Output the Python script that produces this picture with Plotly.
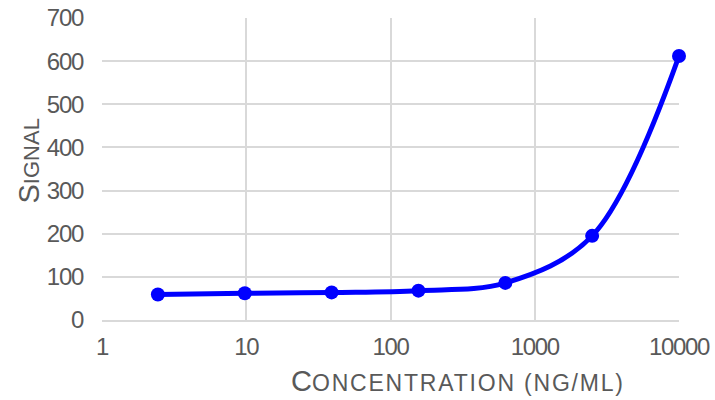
import plotly.graph_objects as go

concentration = [2.44, 9.77, 39.06, 156.25, 625, 2500, 10000]
signal = [59, 62, 64, 68, 86, 195, 612]

x_tick_vals = [1, 10, 100, 1000, 10000]
x_tick_text = ["1", "10", "100", "1000", "10000"]
y_tick_vals = [0, 100, 200, 300, 400, 500, 600, 700]
y_tick_text = ["0", "100", "200", "300", "400", "500", "600", "700"]

GREY = "#595959"
GRID = "#d9d9d9"
TICK_FONT = dict(family="Arial", size=24, color=GREY)


def narrow(t):
    return '<span style="letter-spacing:-1.3px">' + t + '</span>'


fig = go.Figure()
fig.add_trace(go.Scatter(
    x=concentration, y=signal, mode="lines+markers",
    line=dict(color="#0000ff", width=5, shape="spline", smoothing=1),
    marker=dict(color="#0000ff", size=14),
    cliponaxis=False, showlegend=False,
))

fig.update_layout(
    width=715, height=400,
    margin=dict(l=102, r=36, t=18, b=80, autoexpand=False),
    paper_bgcolor="white", plot_bgcolor="white",
    xaxis=dict(type="log", range=[0, 4], tickvals=x_tick_vals,
               ticktext=[narrow(t) for t in x_tick_text],
               showgrid=True, gridcolor=GRID, gridwidth=1.6, zeroline=False,
               showline=True, linecolor=GRID, linewidth=1.6,
               tickfont=TICK_FONT, ticks="", ticklabelstandoff=4,
               ticklabeloverflow="allow", automargin=False),
    yaxis=dict(range=[0, 700], tickvals=y_tick_vals,
               ticktext=[narrow(t) for t in y_tick_text],
               showgrid=True, gridcolor=GRID, gridwidth=1.6, zeroline=False,
               showline=False, tickfont=TICK_FONT, ticks="", ticklabelstandoff=18,
               ticklabeloverflow="allow", automargin=False),
    annotations=[
        dict(text='C<span style="font-size:23px;letter-spacing:1.8px">ONCENTRATION (NG/ML)</span>',
             xref="paper", yref="paper", x=(457.5 - 102) / 577, y=(400 - 381 - 80) / 302,
             xanchor="center", yanchor="middle", showarrow=False,
             font=dict(family="Arial", size=29, color=GREY)),
        dict(text='S<span style="font-size:22px">IGNAL</span>',
             xref="paper", yref="paper", x=(28 - 102) / 577, y=(400 - 161.5 - 80) / 302,
             xanchor="center", yanchor="middle", showarrow=False, textangle=-90,
             font=dict(family="Arial", size=29, color=GREY)),
    ],
)

fig.write_html("out.html")
